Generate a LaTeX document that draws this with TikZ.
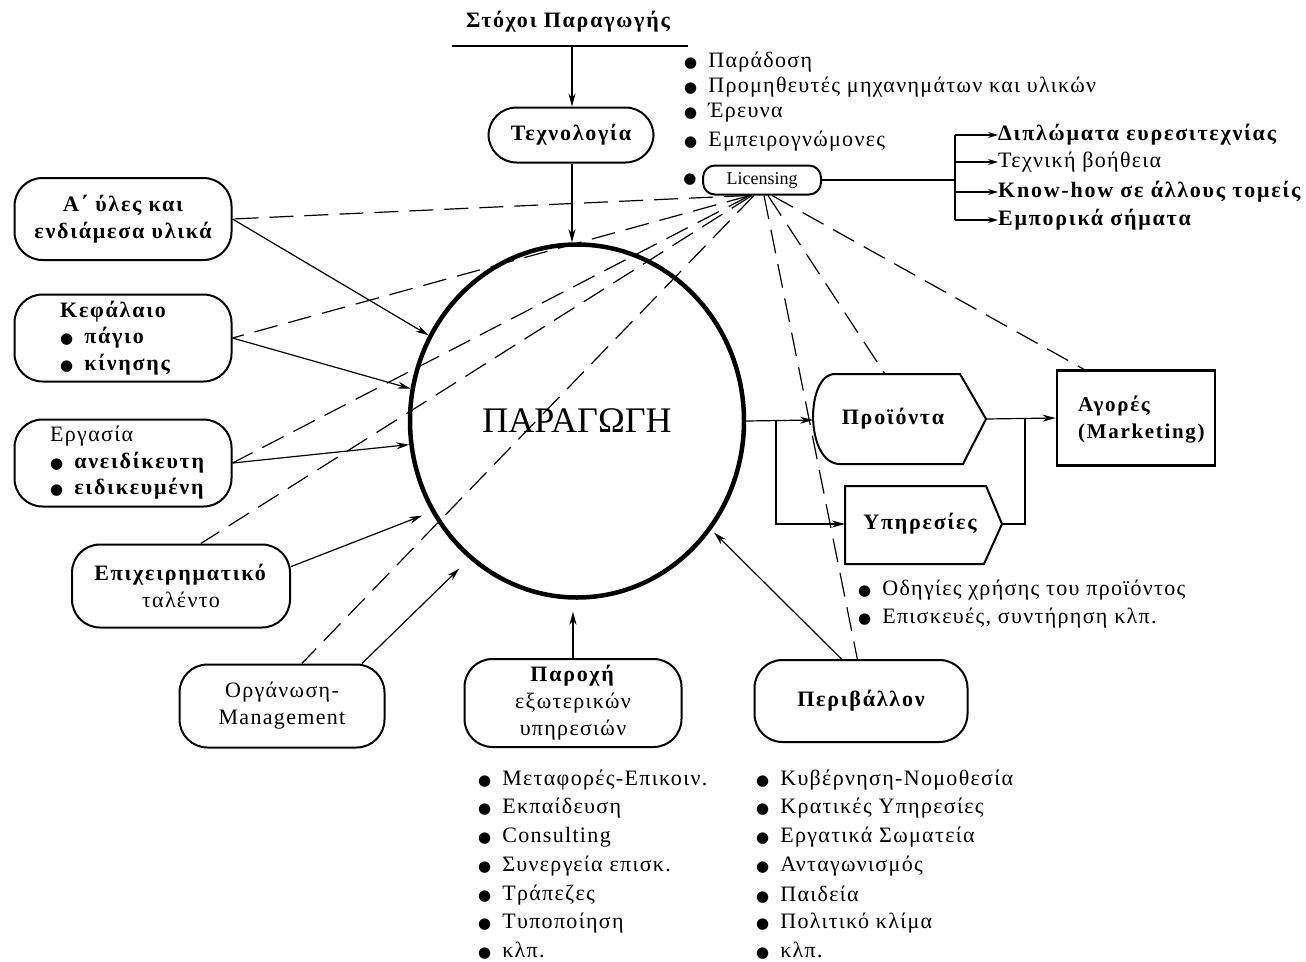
\documentclass[tikz,border=0pt]{standalone}
\usepackage{fontspec}
\setmainfont{Liberation Serif}[LetterSpace=6, BoldFeatures={LetterSpace=8}]
\newfontfamily\plainserif{Liberation Serif}
\newfontfamily\dejavu{DejaVu Sans}
\usetikzlibrary{arrows.meta,shapes.geometric}
\newcommand\bul{{\dejavu\fontsize{15}{15}\selectfont ●}}
\newcommand\szA{\fontsize{22}{27}\selectfont}
\newcommand\itm[1]{\bul\hspace{11pt}#1}
\tikzset{
 box/.style={draw, line width=2pt, rounded corners=28pt, align=center, inner sep=0pt, font=\szA},
 arr/.style={-{Stealth[length=13pt,width=7pt]}, line width=1.2pt},
 arrs/.style={-{Stealth[length=10pt,width=6pt]}, line width=1.2pt},
 dsh/.style={line width=1.2pt, dash pattern=on 24pt off 11pt},
 li/.style={anchor=west, font=\szA, inner sep=0pt},
 lib/.style={anchor=west, font=\szA\bfseries, inner sep=0pt},
}
\begin{document}
\begin{tikzpicture}[x=1pt,y=-1pt]
\useasboundingbox (0,0) rectangle (1306,961);
\fill[white] (0,0) rectangle (1306,961);

% goals and technology
\node[font=\szA\bfseries, inner sep=0pt] (goal) at (568,22) {Στόχοι Παραγωγής};
\coordinate (gl) at (452,46);
\coordinate (gr) at (688,46);
\coordinate (gm) at (572,46);
\draw[line width=1.5pt] (gl) -- (gr);
\node[box, minimum width=165pt, minimum height=55pt, font=\szA\bfseries] (tech) at (571,135) {Τεχνολογία};
\draw[arr] (gm) -- (gm |- tech.north);

% production circle
\node[draw, line width=4.5pt, ellipse, minimum width=334pt, minimum height=353pt, inner sep=0pt, font=\plainserif\fontsize{36}{40}\selectfont] (prod) at (577,421) {ΠΑΡΑΓΩΓΗ};
\draw[arr] (gm |- tech.south) -- (gm |- prod.north);

% technology sources
\node[li] (t1) at (684,62) {\itm{Παράδοση}};
\node[li] (t2) at (684,87) {\itm{Προμηθευτές μηχανημάτων και υλικών}};
\node[li] (t3) at (684,113) {\itm{Έρευνα}};
\node[li] (t4) at (684,141) {\itm{Εμπειρογνώμονες}};
\node[inner sep=0pt] (lb) at (690,180) {\bul};
\node[draw, line width=2pt, rounded corners=12pt, minimum width=118pt, minimum height=29pt, inner sep=0pt, font=\plainserif\fontsize{18}{18}\selectfont] (lic) at (762,180) {Licensing};

% licensing outputs
\coordinate (lj) at (955,180);
\coordinate (ljt) at (955,135);
\coordinate (ljb) at (955,220);
\draw[line width=1.2pt] (lic.east) -- (lj);
\draw[line width=1.2pt] (ljt) -- (ljb);
\node[lib] (r1) at (998,135) {Διπλώματα ευρεσιτεχνίας};
\node[li] (r2) at (998,162) {Τεχνική βοήθεια};
\node[lib] (r3) at (998,192) {Know-how σε άλλους τομείς};
\node[lib] (r4) at (998,220) {Εμπορικά σήματα};
\draw[arrs] (ljt) -- (r1.west);
\draw[arrs] (r2.west -| lj) -- (r2.west);
\draw[arrs] (r3.west -| lj) -- (r3.west);
\draw[arrs] (ljb) -- (r4.west);

% left factor boxes
\node[box, minimum width=217pt, minimum height=82pt, font=\fontsize{22}{27}\selectfont\bfseries] (b1) at (123,219) {Α΄ ύλες και\\ενδιάμεσα υλικά};
\node[box, minimum width=217pt, minimum height=87pt] (b2) at (123,338) {};
\node[anchor=west, align=left, inner sep=0pt, font=\fontsize{22}{26.5}\selectfont\bfseries] (b2t) at (60,338) {Κεφάλαιο\\\itm{πάγιο}\\\itm{κίνησης}};
\node[box, minimum width=217pt, minimum height=87pt] (b3) at (123,463) {};
\node[anchor=west, align=left, inner sep=0pt, font=\fontsize{22}{26.5}\selectfont] (b3t) at (50,463) {Εργασία\\\textbf{\itm{ανειδίκευτη}}\\\textbf{\itm{ειδικευμένη}}};
\node[box, minimum width=218pt, minimum height=83pt] (b4) at (181,586) {\textbf{Επιχειρηματικό}\\ταλέντο};
\node[box, minimum width=205pt, minimum height=83pt] (b5) at (282,706) {Οργάνωση-\\Management};
\node[box, minimum width=217pt, minimum height=88pt] (b6) at (573,703) {\textbf{Παροχή}\\εξωτερικών\\υπηρεσιών};
\node[box, minimum width=213pt, minimum height=82pt, font=\szA\bfseries] (b7) at (861,701) {Περιβάλλον};

% solid arrows into production
\draw[arr] (b1.east) -- (prod.150);
\draw[arr] (b2.east) -- (prod.169);
\draw[arr] (b3.east) -- (prod.188);
\draw[arr, shorten >=10pt] (b4.10) -- (prod.212);
\draw[arr, shorten >=14pt] (b5.28) -- (prod.232);
\draw[arr, shorten >=12pt] (b6.north) -- (b6.north |- prod.south);
\draw[arr, shorten >=4pt] (b7.115) -- (prod.321);

% dashed licensing links
\draw[dsh] ([xshift=-14pt]lic.south) -- (b1.east);
\draw[dsh] ([xshift=-12pt]lic.south) -- (b2.east);
\draw[dsh] ([xshift=-12pt]lic.south) -- (b3.east);
\draw[dsh] ([xshift=-10pt]lic.south) -- (b4.65);
\draw[dsh] ([xshift=-8pt]lic.south) -- (b5.65);
\draw[dsh] ([xshift=2pt]lic.south) -- (b7.95);
\coordinate (prN) at (885,374);
\draw[dsh] ([xshift=6pt]lic.south) -- (prN);

% products and services
\draw[line width=2pt] (835,374) -- (960,374) -- (986,419) -- (963,464) -- (840,464) .. controls (805,464) and (805,374) .. (835,374) -- cycle;
\node[font=\szA\bfseries, inner sep=0pt] (pr) at (893,419) {Προϊόντα};
\draw[line width=2pt] (845,486) -- (986,486) -- (1002,524) -- (984,564) -- (845,564) -- cycle;
\node[font=\szA\bfseries, inner sep=0pt] (yp) at (920,524) {Υπηρεσίες};
\coordinate (prW) at (813,420);
\coordinate (prE) at (986,419);
\coordinate (ypW) at (845,524);
\coordinate (ypE) at (1002,524);
\coordinate (br) at (776,420);
\coordinate (mj) at (1025,419);

% markets
\node[draw, line width=2.8pt, minimum width=158pt, minimum height=95pt, inner sep=0pt] (ag) at (1136,418) {};
\node[anchor=west, align=left, inner sep=0pt, font=\fontsize{21}{27}\selectfont\bfseries] (agt) at (1078,420) {Αγορές\\(Marketing)};
\draw[dsh] ([xshift=10pt]lic.south) -- (ag.137);

\draw[arr] (prod.east) -- (prW);
\draw[arr] (br) |- (ypW);
\draw[arr] (prE) -- (ag.west);
\draw[line width=1.2pt] (ypE) -| (mj);

% services notes
\node[li] (u1) at (858,590) {\itm{Οδηγίες χρήσης του προϊόντος}};
\node[li] (u2) at (858,618) {\itm{Επισκευές, συντήρηση κλπ.}};

% bottom lists
\node[li] (p1) at (478,780) {\itm{Μεταφορές-Επικοιν.}};
\node[li] (p2) at (478,808) {\itm{Εκπαίδευση}};
\node[li] (p3) at (478,837) {\itm{Consulting}};
\node[li] (p4) at (478,866) {\itm{Συνεργεία επισκ.}};
\node[li] (p5) at (478,895) {\itm{Τράπεζες}};
\node[li] (p6) at (478,923) {\itm{Τυποποίηση}};
\node[li] (p7) at (478,951) {\itm{κλπ.}};

\node[li] (e1) at (756,780) {\itm{Κυβέρνηση-Νομοθεσία}};
\node[li] (e2) at (756,808) {\itm{Κρατικές Υπηρεσίες}};
\node[li] (e3) at (756,837) {\itm{Εργατικά Σωματεία}};
\node[li] (e4) at (756,866) {\itm{Ανταγωνισμός}};
\node[li] (e5) at (756,895) {\itm{Παιδεία}};
\node[li] (e6) at (756,923) {\itm{Πολιτικό κλίμα}};
\node[li] (e7) at (756,951) {\itm{κλπ.}};
\end{tikzpicture}
\end{document}
